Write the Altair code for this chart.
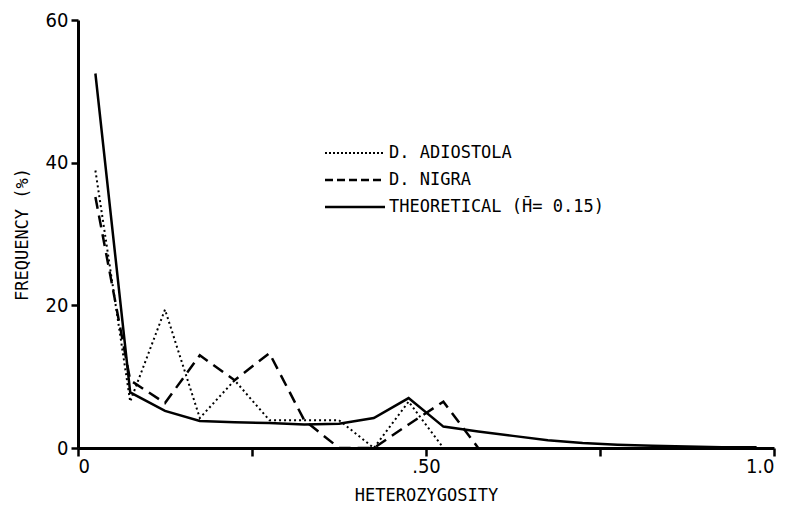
import altair as alt
import pandas as pd

# ---- data ----
x_mid = [0.025, 0.075, 0.125, 0.175, 0.225, 0.275, 0.325, 0.375, 0.425, 0.475,
         0.525, 0.575, 0.625, 0.675, 0.725, 0.775, 0.825, 0.875, 0.925, 0.975]
theoretical = [52.5, 7.8, 5.2, 3.8, 3.6, 3.5, 3.3, 3.4, 4.2, 7.0,
               3.0, 2.3, 1.7, 1.1, 0.7, 0.45, 0.3, 0.2, 0.1, 0.1]
adiostola = [38.9, 6.5, 19.4, 4.2, 9.5, 3.9, 3.9, 3.9, 0.0, 6.5, 0.0]
nigra = [35.2, 9.5, 6.3, 13.0, 9.5, 13.3, 3.9, 0.0, 0.0, 3.3, 6.5, 0.0]

legend_labels = ["D. ADIOSTOLA", "D. NIGRA", "THEORETICAL (H\u0304= 0.15)"]
x_ticks = [0, 0.25, 0.5, 0.75, 1.0]
y_ticks = [0, 20, 40, 60]

df_t = pd.DataFrame({"h": x_mid[:len(theoretical)], "f": theoretical})
df_a = pd.DataFrame({"h": x_mid[:len(adiostola)], "f": adiostola})
df_n = pd.DataFrame({"h": x_mid[:len(nigra)], "f": nigra})

FONT = "DejaVu Sans Mono"
TICKFONT = "Liberation Sans Narrow, DejaVu Sans Condensed, sans-serif"

xenc = alt.X("h:Q", scale=alt.Scale(domain=[0, 1], nice=False, zero=False),
             axis=alt.Axis(values=x_ticks, title="HETEROZYGOSITY",
                           labelExpr="datum.value == 0 ? '0' : (datum.value == 0.5 ? '.50' : (datum.value == 1 ? '1.0' : ''))",
                           tickSize=8, tickWidth=2.5, domainWidth=3, labelPadding=0,
                           titlePadding=11, grid=False))
yenc = alt.Y("f:Q", scale=alt.Scale(domain=[0, 60], nice=False),
             axis=alt.Axis(values=y_ticks, title="FREQUENCY (%)", tickSize=7, tickWidth=2.5,
                           domainWidth=3, labelPadding=3, titlePadding=14, grid=False))

line_t = alt.Chart(df_t).mark_line(color="black", strokeWidth=2.5).encode(x=xenc, y=yenc)
line_a = alt.Chart(df_a).mark_line(color="black", strokeWidth=2, strokeDash=[2, 3]).encode(x=xenc, y=yenc)
line_n = alt.Chart(df_n).mark_line(color="black", strokeWidth=2.5, strokeDash=[12, 7]).encode(x=xenc, y=yenc)

# ---- legend (drawn inside the plot) ----
one = pd.DataFrame({"k": [0]})
dashes = [[2, 2], [8, 4], [1, 0]]
widths = [2, 2.5, 2.5]
rows_y = [133, 160, 187]
legend_layers = []
for lab, d, w, yy in zip(legend_labels, dashes, widths, rows_y):
    legend_layers.append(
        alt.Chart(one).mark_rule(color="black", strokeWidth=w, strokeDash=d).encode(
            x=alt.value(247), x2=alt.value(307), y=alt.value(yy)))
    legend_layers.append(
        alt.Chart(one).mark_text(align="left", baseline="middle", font=FONT, fontSize=17,
                                 color="black").encode(
            x=alt.value(311), y=alt.value(yy), text=alt.value(lab)))

chart = alt.layer(line_a, line_n, line_t, *legend_layers).properties(
    width=696, height=428,
    autosize=alt.AutoSizeParams(type="none"),
    padding={"left": 70, "top": 12, "right": 10, "bottom": 58},
).configure_view(stroke=None).configure_axis(
    domainColor="black", tickColor="black", labelColor="black", titleColor="black",
    labelFont=TICKFONT, labelFontSize=20, titleFont=FONT, titleFontSize=17,
    titleFontWeight="normal",
)

chart.save("out.html", embed_options={"renderer": "svg", "actions": False})
